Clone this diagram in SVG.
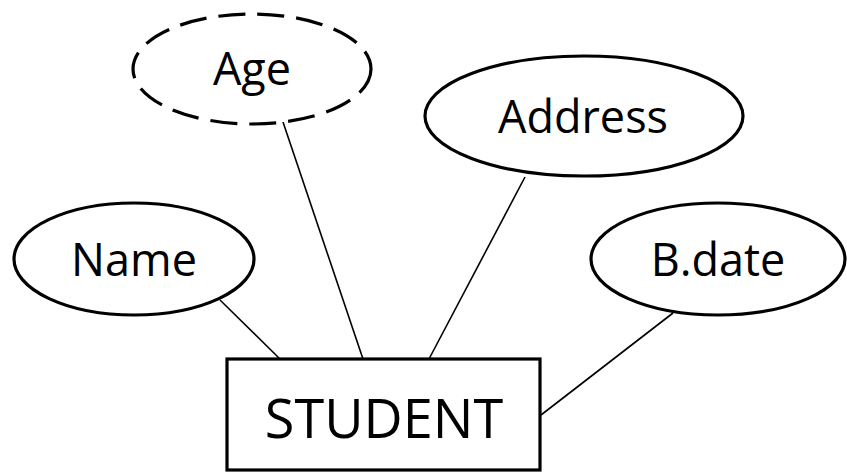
<svg xmlns="http://www.w3.org/2000/svg" width="847" height="472" viewBox="0 0 847 472">
  <style>
    .shape { fill: #ffffff; stroke: #000000; stroke-width: 3.2; }
    .derived { stroke-dasharray: 27 12; }
    .link { stroke: #000000; stroke-width: 1.6; fill: none; }
    .label { font-family: "Open Sans", "Liberation Sans", sans-serif; font-size: 45px; fill: #000000; text-anchor: middle; }
    .entity-label { font-size: 54px; }
  </style>
  <rect width="847" height="472" fill="#ffffff"/>

  <!-- attribute-to-entity links -->
  <g id="connectors">
    <line class="link" x1="220" y1="300" x2="280" y2="359"/>
    <line class="link" x1="283" y1="122" x2="363" y2="359"/>
    <line class="link" x1="525" y1="177" x2="429" y2="359"/>
    <line class="link" x1="673" y1="313" x2="541" y2="415"/>
  </g>

  <g id="age">
    <ellipse class="shape derived" cx="252" cy="69" rx="119" ry="55"/>
    <text class="label" x="252" y="85">Age</text>
  </g>

  <g id="address">
    <ellipse class="shape" cx="584" cy="116" rx="159" ry="60"/>
    <text class="label" x="583" y="133">Address</text>
  </g>

  <g id="name">
    <ellipse class="shape" cx="134" cy="259" rx="120" ry="56"/>
    <text class="label" x="134" y="276">Name</text>
  </g>

  <g id="bdate">
    <ellipse class="shape" cx="718" cy="259" rx="127" ry="56"/>
    <text class="label" x="718" y="276">B.date</text>
  </g>

  <g id="student">
    <rect class="shape" x="227" y="359" width="313" height="111"/>
    <text class="label entity-label" x="384" y="438">STUDENT</text>
  </g>
</svg>
